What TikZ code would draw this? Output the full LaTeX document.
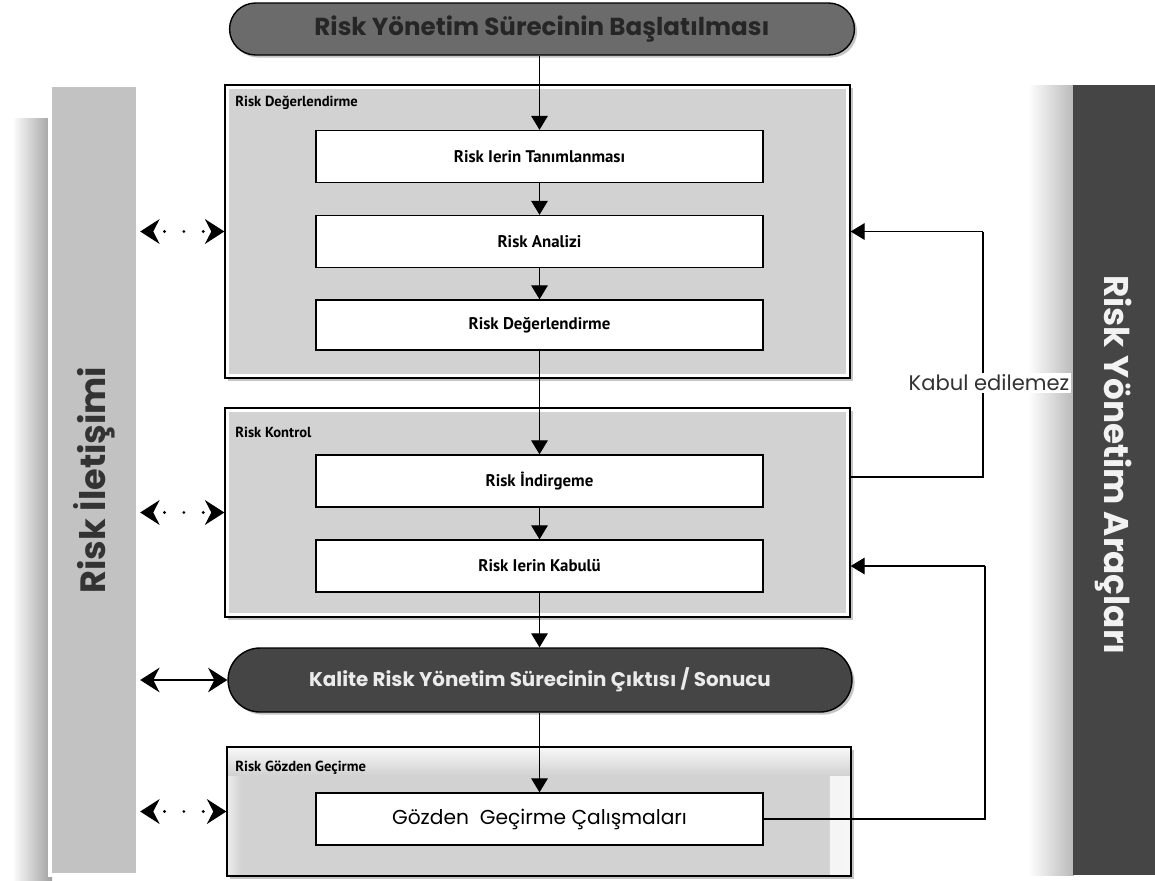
\documentclass[tikz,border=0pt]{standalone}
\usepackage{fontspec}
\setmainfont{Poppins}
\newfontfamily\boxfont{PT Sans}
\usetikzlibrary{arrows.meta,shadows,shapes.misc,calc}
\definecolor{boxgray}{HTML}{D2D2D2}
\definecolor{lbargray}{HTML}{C2C2C2}
\definecolor{topgray}{HTML}{6B6B6B}
\definecolor{darkgray}{HTML}{454545}
\begin{document}
\begin{tikzpicture}[x=0.02cm,y=-0.02cm,
  ibox/.style={draw=black, line width=0.8pt, fill=white, minimum width=8.94cm, minimum height=1.04cm, inner sep=0pt, font=\boxfont\bfseries\fontsize{9.6}{11}\selectfont},
  gbox/.style={draw=black, line width=0.8pt, fill=white, inner sep=0pt, minimum width=12.5cm,
    drop shadow={shadow xshift=1.5pt, shadow yshift=-1.5pt, opacity=0.45},
    path picture={\fill[boxgray] ($(path picture bounding box.north west)+(2.5pt,-2.5pt)$) rectangle ($(path picture bounding box.south east)+(-2.5pt,2.5pt)$);}},
  bevelbox/.style={draw=black, line width=0.8pt, fill=boxgray, inner sep=0pt,
    drop shadow={shadow xshift=1.5pt, shadow yshift=-1.5pt, opacity=0.45},
    path picture={
      \shade[left color=boxgray, right color=white!80!boxgray] ($(path picture bounding box.north east)+(-12pt,0)$) rectangle (path picture bounding box.south east);
      \shade[left color=white!60!boxgray, right color=boxgray] (path picture bounding box.north west) rectangle ($(path picture bounding box.south west)+(8pt,0)$);
      \shade[top color=white!85!boxgray, bottom color=boxgray] (path picture bounding box.north west) rectangle ($(path picture bounding box.north east)+(0,-16pt)$);}},
  glabel/.style={anchor=north west, inner sep=0pt, font=\boxfont\bfseries\fontsize{8.3}{10}\selectfont},
  oval/.style={rounded rectangle, draw=black, line width=0.8pt, inner sep=0pt, minimum width=12.48cm,
    drop shadow={shadow xshift=1.5pt, shadow yshift=-1.5pt, opacity=0.45}},
  arr/.style={line width=0.7pt, -{Triangle[length=8pt,width=9.5pt]}},
  darr/.style={line width=1.8pt, line cap=round, dash pattern=on 0pt off 11pt, dash phase=4pt, {Stealth[length=11pt,width=14pt]}-{Stealth[length=11pt,width=14pt]}},
  sarr/.style={line width=0.9pt, {Stealth[length=11pt,width=14pt]}-{Stealth[length=11pt,width=14pt]}},
  fline/.style={line width=0.7pt}
]
\useasboundingbox (0,0) rectangle (1155,880);
\fill[white] (0,0) rectangle (1155,880);

% shadows of the side bars
\shade[left color=white, right color=gray!75] (12,118) rectangle (52,880);
\shade[left color=white, right color=gray!55] (1028,85) rectangle (1074,875);

% side bars
\node[draw=white, line width=2.5pt, fill=lbargray, minimum width=1.76cm, minimum height=15.8cm, inner sep=0pt,
  font=\bfseries\fontsize{20}{22}\selectfont, text=black!80] (lbar) at (94,480) {\rotatebox{90}{Risk İletişimi}};
\node[fill=darkgray, minimum width=1.64cm, minimum height=15.8cm, inner sep=0pt,
  font=\bfseries\fontsize{19.5}{23}\selectfont, text=white!95!black] (rbar) at (1114,480) {\rotatebox{-90}{Risk Yönetim Araçları\hspace{0.6cm}}};

% top oval
\node[oval, fill=topgray, minimum height=1.04cm, minimum width=12.5cm, font=\fontsize{14}{16}\selectfont\bfseries, text=black!85] (top) at (542,29) {Risk Yönetim Sürecinin Başlatılması};

% box 1
\node[gbox, minimum height=5.86cm] (b1) at (537.5,231.5) {};
\node[glabel] (b1l) at (235,96) {Risk Değerlendirme};
\node[ibox] (t1) at (539.5,156.5) {Risk Ierin Tanımlanması};
\node[ibox] (t2) at (539.5,241.5) {Risk Analizi};
\node[ibox, minimum height=1.0cm] (t3) at (539.5,325) {Risk Değerlendirme};

% box 2
\node[gbox, minimum height=4.18cm] (b2) at (537.5,512.5) {};
\node[glabel] (b2l) at (235,427) {Risk Kontrol};
\node[ibox] (k1) at (539.5,481) {Risk İndirgeme};
\node[ibox] (k2) at (539.5,566) {Risk Ierin Kabulü};

% output oval
\node[oval, fill=darkgray, minimum height=1.28cm, font=\fontsize{11.3}{13}\selectfont\bfseries, text=white!92!black] (out) at (540,680) {Kalite Risk Yönetim Sürecinin Çıktısı / Sonucu};

% box 3
\node[bevelbox, minimum width=12.48cm, minimum height=2.58cm] (b3) at (539,811.5) {};
\node[glabel] (b3l) at (235,761) {Risk Gözden Geçirme};
\node[ibox, font=\fontsize{11.5}{13}\selectfont] (g1) at (539.5,819) {Gözden\ \ Geçirme Çalışmaları};

% vertical flow
\draw[arr] (t1.north |- top.south) -- (t1.north);
\draw[arr] (t1.south) -- (t2.north);
\draw[arr] (t2.south) -- (t3.north);
\draw[arr] (t3.south) -- (k1.north);
\draw[arr] (k1.south) -- (k2.north);
\draw[arr] (k2.south) -- (k2.south |- out.north);
\draw[arr] (k2.south |- out.south) -- (g1.north);

% communication arrows
\draw[darr] (lbar.east |- b1.west) -- (b1.west);
\draw[darr] (lbar.east |- b2.west) -- (b2.west);
\draw[sarr] (lbar.east |- out.west) -- (out.west);
\draw[darr] (lbar.east |- b3.west) -- (b3.west);

% feedback loops
\coordinate (fb1) at (983,0);
\coordinate (fb2) at (985,0);
\draw[fline] (b2.east |- 0,477) -| (fb1 |- b1.east);
\draw[arr] (fb1 |- b1.east) -- (b1.east);
\draw[fline] (g1.east) -| (fb2 |- k2);
\draw[arr] (fb2 |- k2) -- (b2.east |- k2);
\node[fill=white, inner sep=1pt, font=\fontsize{12}{14}\selectfont, text=black!80] (kab) at (989,383) {Kabul edilemez};
\end{tikzpicture}
\end{document}
